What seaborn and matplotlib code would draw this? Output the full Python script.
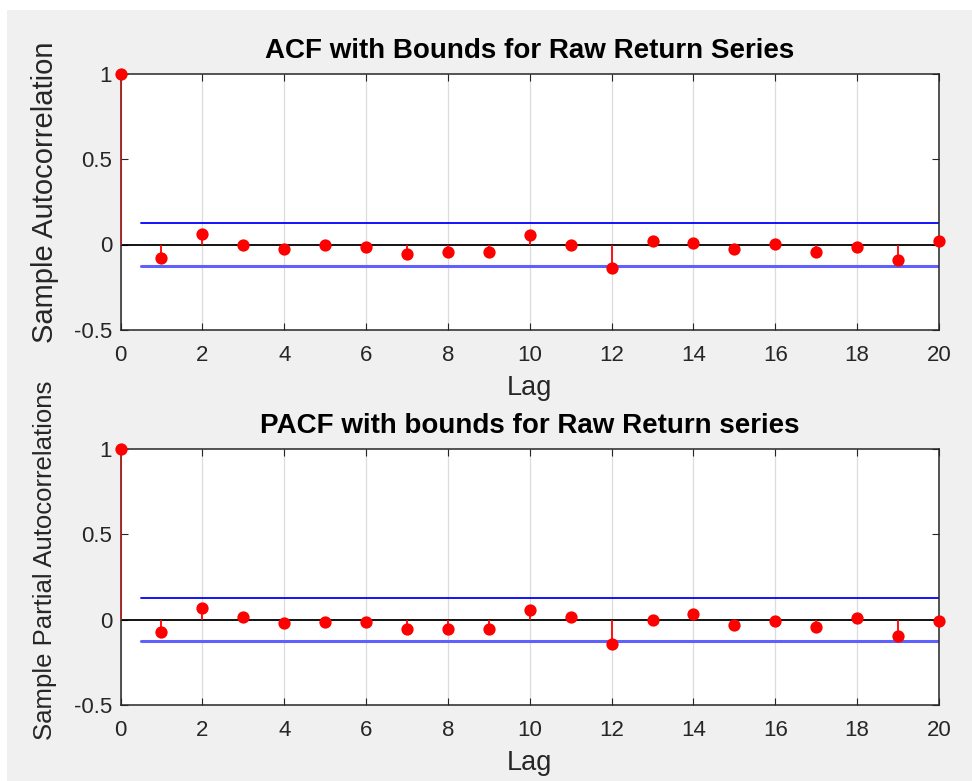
import numpy as np
import pandas as pd
import seaborn as sns
import matplotlib
matplotlib.use("Agg")
import matplotlib.pyplot as plt
from matplotlib.patches import Rectangle

# ---- data ----
lags = list(range(0, 21))
acf_vals = [1.0, -0.078, 0.063, 0.0, -0.027, 0.0, -0.014, -0.057, -0.045, -0.045,
            0.055, 0.0, -0.135, 0.021, 0.010, -0.025, 0.002, -0.045, -0.012, -0.090, 0.021]
pacf_vals = [1.0, -0.076, 0.066, 0.012, -0.022, -0.013, -0.013, -0.055, -0.055, -0.055,
             0.056, 0.014, -0.142, 0.0, 0.035, -0.031, -0.011, -0.042, 0.010, -0.097, -0.011]
bound = 0.123
bound_x = [0.5, 20]
xticks = list(range(0, 21, 2))
yticks = [-0.5, 0, 0.5, 1]
ytick_labels = ["-0.5", "0", "0.5", "1"]
titles = ["ACF with Bounds for Raw Return Series", "PACF with bounds for Raw Return series"]
ylabels = ["Sample Autocorrelation", "Sample Partial Autocorrelations"]
xlabel = "Lag"

sns.set_theme(style="white")
plt.rcParams["font.family"] = ["Liberation Sans", "DejaVu Sans"]
tick_col = "#262626"

fig = plt.figure(figsize=(9.72, 7.81), dpi=100)
fig.patch.set_facecolor("white")
fig.patches.append(Rectangle((7 / 972, 0), 1 - 7 / 972, 1 - 10 / 781,
                             transform=fig.transFigure, facecolor="#f0f0f0",
                             edgecolor="none", zorder=-10))

left = 120.5 / 972
width = (939 - 120.5) / 972
axes_boxes = [(1 - 330 / 781, (330 - 73.5) / 781), (1 - 705 / 781, (705 - 448.5) / 781)]
ylabel_centers = [192, 560]
ylabel_sizes = [21, 18.5]

for i, (vals, (bot, h)) in enumerate(zip([acf_vals, pacf_vals], axes_boxes)):
    ax = fig.add_axes([left, bot, width, h])
    ax.set_facecolor("white")
    df = pd.DataFrame({"lag": lags, "val": vals})
    # grid
    for xt in xticks:
        ax.axvline(xt, color="#dcdcdc", lw=0.9, zorder=0)
    # zero line
    ax.axhline(0, color="black", lw=1.3, zorder=2)
    # stems
    ax.vlines(df["lag"], 0, df["val"], color="red", lw=1.3, zorder=3)
    # markers
    sns.scatterplot(data=df, x="lag", y="val", ax=ax, color="red", s=78,
                    edgecolor="red", linewidth=0, zorder=4, clip_on=False, legend=False)
    # bounds
    sns.lineplot(x=bound_x, y=[bound, bound], ax=ax, color="#0000ff", lw=1.3, zorder=2)
    sns.lineplot(x=bound_x, y=[-bound, -bound], ax=ax, color="#6060ff", lw=2.2, zorder=2)

    ax.set_xlim(0, 20)
    ax.set_ylim(-0.5, 1)
    ax.set_xticks(xticks)
    ax.set_xticklabels([str(x) for x in xticks])
    ax.set_yticks(yticks)
    ax.set_yticklabels(ytick_labels)
    ax.tick_params(direction="in", length=5, width=0.8, color=tick_col,
                   labelsize=16, labelcolor=tick_col, top=True, right=True,
                   bottom=True, left=True)
    ax.tick_params(axis="x", pad=11)
    ax.tick_params(axis="y", pad=6)
    for s in ax.spines.values():
        s.set_color(tick_col)
        s.set_linewidth(1.1)
        s.set_visible(True)
    ax.set_xlabel(xlabel, fontsize=19.5, color=tick_col, labelpad=6)
    ax.set_ylabel("")
    ax.set_title(titles[i], fontsize=20, fontweight="bold", color="black", pad=11)
    fig.text(45 / 972, 1 - ylabel_centers[i] / 781, ylabels[i], rotation=90,
             ha="center", va="center", fontsize=ylabel_sizes[i], color=tick_col)

fig.savefig("out.png", dpi=100)
